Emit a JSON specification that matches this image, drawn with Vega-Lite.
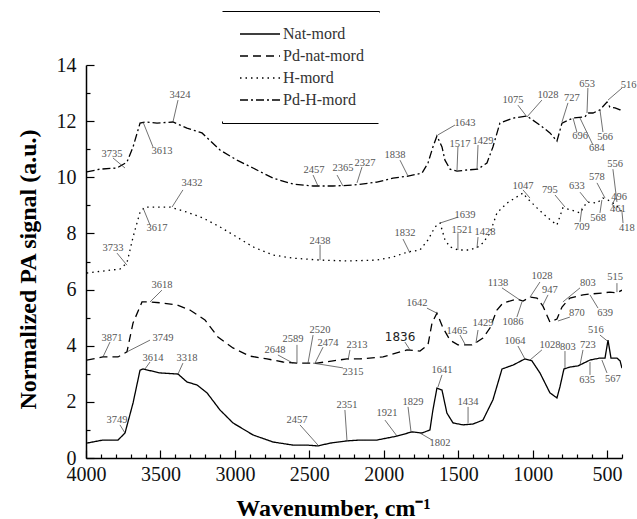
{
  "$schema": "https://vega.github.io/schema/vega-lite/v6.json",
  "width": 536,
  "height": 393,
  "autosize": {"type": "none"},
  "padding": {"left": 86, "top": 65, "right": 15, "bottom": 61},
  "background": "white",
  "config": {
    "view": {"stroke": null},
    "axis": {
      "domainColor": "black", "domainWidth": 1.5, "tickColor": "black", "tickWidth": 1.2,
      "labelFont": "Liberation Serif", "labelFontSize": 20, "labelColor": "#111",
      "titleFont": "Liberation Serif", "titleFontSize": 24, "titleFontWeight": "bold", "titleColor": "black",
      "grid": false, "labelOverlap": false
    },
    "legend": {
      "labelFont": "Liberation Serif", "labelFontSize": 16, "labelColor": "#333"
    }
  },
  "resolve": {"axis": {"x": "independent", "y": "independent"}},
  "datasets": {
    "spectra": [
      {"s":"Nat-mord","w":3995,"v":0.53},{"s":"Nat-mord","w":3886,"v":0.64},{"s":"Nat-mord","w":3785,"v":0.64},{"s":"Nat-mord","w":3738,"v":0.89},{"s":"Nat-mord","w":3684,"v":1.96},{"s":"Nat-mord","w":3637,"v":3.13},{"s":"Nat-mord","w":3617,"v":3.17},{"s":"Nat-mord","w":3503,"v":3.03},{"s":"Nat-mord","w":3382,"v":2.99},{"s":"Nat-mord","w":3322,"v":2.71},{"s":"Nat-mord","w":3254,"v":2.6},{"s":"Nat-mord","w":3187,"v":2.32},{"s":"Nat-mord","w":3100,"v":1.71},{"s":"Nat-mord","w":3013,"v":1.25},{"s":"Nat-mord","w":2878,"v":0.82},{"s":"Nat-mord","w":2744,"v":0.57},{"s":"Nat-mord","w":2610,"v":0.46},{"s":"Nat-mord","w":2516,"v":0.46},{"s":"Nat-mord","w":2442,"v":0.43},{"s":"Nat-mord","w":2361,"v":0.53},{"s":"Nat-mord","w":2247,"v":0.61},{"s":"Nat-mord","w":2160,"v":0.64},{"s":"Nat-mord","w":2046,"v":0.64},{"s":"Nat-mord","w":1911,"v":0.78},{"s":"Nat-mord","w":1811,"v":0.93},{"s":"Nat-mord","w":1743,"v":0.89},{"s":"Nat-mord","w":1690,"v":1.0},{"s":"Nat-mord","w":1670,"v":1.71},{"s":"Nat-mord","w":1643,"v":2.49},{"s":"Nat-mord","w":1609,"v":2.42},{"s":"Nat-mord","w":1576,"v":1.6},{"s":"Nat-mord","w":1535,"v":1.25},{"s":"Nat-mord","w":1468,"v":1.18},{"s":"Nat-mord","w":1401,"v":1.21},{"s":"Nat-mord","w":1334,"v":1.35},{"s":"Nat-mord","w":1267,"v":2.07},{"s":"Nat-mord","w":1206,"v":3.17},{"s":"Nat-mord","w":1132,"v":3.31},{"s":"Nat-mord","w":1052,"v":3.53},{"s":"Nat-mord","w":1005,"v":3.46},{"s":"Nat-mord","w":951,"v":3.03},{"s":"Nat-mord","w":884,"v":2.32},{"s":"Nat-mord","w":837,"v":2.14},{"s":"Nat-mord","w":817,"v":2.53},{"s":"Nat-mord","w":790,"v":3.17},{"s":"Nat-mord","w":750,"v":3.24},{"s":"Nat-mord","w":696,"v":3.28},{"s":"Nat-mord","w":615,"v":3.49},{"s":"Nat-mord","w":548,"v":3.56},{"s":"Nat-mord","w":514,"v":3.56},{"s":"Nat-mord","w":494,"v":4.2},{"s":"Nat-mord","w":474,"v":3.56},{"s":"Nat-mord","w":434,"v":3.56},{"s":"Nat-mord","w":413,"v":3.46},{"s":"Nat-mord","w":400,"v":3.2},
      {"s":"Pd-nat-mord","w":3995,"v":3.49},{"s":"Pd-nat-mord","w":3886,"v":3.6},{"s":"Pd-nat-mord","w":3785,"v":3.6},{"s":"Pd-nat-mord","w":3725,"v":3.78},{"s":"Pd-nat-mord","w":3684,"v":4.81},{"s":"Pd-nat-mord","w":3624,"v":5.56},{"s":"Pd-nat-mord","w":3570,"v":5.56},{"s":"Pd-nat-mord","w":3483,"v":5.52},{"s":"Pd-nat-mord","w":3389,"v":5.45},{"s":"Pd-nat-mord","w":3302,"v":5.27},{"s":"Pd-nat-mord","w":3201,"v":4.92},{"s":"Pd-nat-mord","w":3114,"v":4.31},{"s":"Pd-nat-mord","w":3013,"v":3.92},{"s":"Pd-nat-mord","w":2899,"v":3.63},{"s":"Pd-nat-mord","w":2784,"v":3.53},{"s":"Pd-nat-mord","w":2677,"v":3.42},{"s":"Pd-nat-mord","w":2583,"v":3.38},{"s":"Pd-nat-mord","w":2496,"v":3.38},{"s":"Pd-nat-mord","w":2449,"v":3.38},{"s":"Pd-nat-mord","w":2341,"v":3.46},{"s":"Pd-nat-mord","w":2247,"v":3.53},{"s":"Pd-nat-mord","w":2160,"v":3.53},{"s":"Pd-nat-mord","w":2005,"v":3.6},{"s":"Pd-nat-mord","w":1844,"v":3.85},{"s":"Pd-nat-mord","w":1757,"v":3.81},{"s":"Pd-nat-mord","w":1703,"v":4.03},{"s":"Pd-nat-mord","w":1676,"v":4.81},{"s":"Pd-nat-mord","w":1643,"v":5.16},{"s":"Pd-nat-mord","w":1602,"v":4.63},{"s":"Pd-nat-mord","w":1555,"v":4.2},{"s":"Pd-nat-mord","w":1502,"v":4.03},{"s":"Pd-nat-mord","w":1408,"v":4.03},{"s":"Pd-nat-mord","w":1374,"v":4.13},{"s":"Pd-nat-mord","w":1334,"v":4.27},{"s":"Pd-nat-mord","w":1287,"v":4.63},{"s":"Pd-nat-mord","w":1240,"v":5.27},{"s":"Pd-nat-mord","w":1200,"v":5.52},{"s":"Pd-nat-mord","w":1106,"v":5.66},{"s":"Pd-nat-mord","w":1065,"v":5.59},{"s":"Pd-nat-mord","w":1018,"v":5.73},{"s":"Pd-nat-mord","w":971,"v":5.7},{"s":"Pd-nat-mord","w":931,"v":5.41},{"s":"Pd-nat-mord","w":884,"v":4.84},{"s":"Pd-nat-mord","w":837,"v":4.95},{"s":"Pd-nat-mord","w":803,"v":5.38},{"s":"Pd-nat-mord","w":750,"v":5.7},{"s":"Pd-nat-mord","w":662,"v":5.81},{"s":"Pd-nat-mord","w":615,"v":5.84},{"s":"Pd-nat-mord","w":528,"v":5.88},{"s":"Pd-nat-mord","w":481,"v":5.91},{"s":"Pd-nat-mord","w":434,"v":5.88},{"s":"Pd-nat-mord","w":400,"v":5.98},
      {"s":"H-mord","w":3995,"v":6.59},{"s":"H-mord","w":3886,"v":6.66},{"s":"H-mord","w":3772,"v":6.73},{"s":"H-mord","w":3725,"v":6.95},{"s":"H-mord","w":3684,"v":7.87},{"s":"H-mord","w":3637,"v":8.76},{"s":"H-mord","w":3604,"v":8.94},{"s":"H-mord","w":3523,"v":8.94},{"s":"H-mord","w":3436,"v":8.94},{"s":"H-mord","w":3322,"v":8.76},{"s":"H-mord","w":3214,"v":8.55},{"s":"H-mord","w":3100,"v":8.23},{"s":"H-mord","w":2986,"v":7.87},{"s":"H-mord","w":2878,"v":7.52},{"s":"H-mord","w":2744,"v":7.23},{"s":"H-mord","w":2610,"v":7.12},{"s":"H-mord","w":2428,"v":7.05},{"s":"H-mord","w":2247,"v":7.02},{"s":"H-mord","w":2046,"v":7.05},{"s":"H-mord","w":1938,"v":7.16},{"s":"H-mord","w":1837,"v":7.34},{"s":"H-mord","w":1757,"v":7.41},{"s":"H-mord","w":1703,"v":7.77},{"s":"H-mord","w":1656,"v":8.23},{"s":"H-mord","w":1622,"v":8.37},{"s":"H-mord","w":1589,"v":7.77},{"s":"H-mord","w":1555,"v":7.52},{"s":"H-mord","w":1502,"v":7.41},{"s":"H-mord","w":1421,"v":7.41},{"s":"H-mord","w":1367,"v":7.52},{"s":"H-mord","w":1334,"v":7.66},{"s":"H-mord","w":1287,"v":8.01},{"s":"H-mord","w":1240,"v":8.73},{"s":"H-mord","w":1173,"v":9.08},{"s":"H-mord","w":1065,"v":9.44},{"s":"H-mord","w":1038,"v":9.26},{"s":"H-mord","w":971,"v":8.91},{"s":"H-mord","w":904,"v":8.58},{"s":"H-mord","w":837,"v":8.3},{"s":"H-mord","w":797,"v":8.91},{"s":"H-mord","w":736,"v":8.83},{"s":"H-mord","w":682,"v":8.73},{"s":"H-mord","w":635,"v":9.12},{"s":"H-mord","w":568,"v":9.08},{"s":"H-mord","w":528,"v":9.26},{"s":"H-mord","w":494,"v":9.19},{"s":"H-mord","w":461,"v":9.08},{"s":"H-mord","w":427,"v":8.94},{"s":"H-mord","w":400,"v":8.76},
      {"s":"Pd-H-mord","w":3995,"v":10.19},{"s":"Pd-H-mord","w":3906,"v":10.29},{"s":"Pd-H-mord","w":3792,"v":10.33},{"s":"Pd-H-mord","w":3725,"v":10.54},{"s":"Pd-H-mord","w":3684,"v":11.08},{"s":"Pd-H-mord","w":3637,"v":11.93},{"s":"Pd-H-mord","w":3604,"v":11.97},{"s":"Pd-H-mord","w":3523,"v":11.93},{"s":"Pd-H-mord","w":3416,"v":11.97},{"s":"Pd-H-mord","w":3322,"v":11.75},{"s":"Pd-H-mord","w":3221,"v":11.58},{"s":"Pd-H-mord","w":3100,"v":10.97},{"s":"Pd-H-mord","w":2986,"v":10.61},{"s":"Pd-H-mord","w":2878,"v":10.33},{"s":"Pd-H-mord","w":2744,"v":9.97},{"s":"Pd-H-mord","w":2610,"v":9.76},{"s":"Pd-H-mord","w":2475,"v":9.69},{"s":"Pd-H-mord","w":2341,"v":9.69},{"s":"Pd-H-mord","w":2207,"v":9.72},{"s":"Pd-H-mord","w":2046,"v":9.83},{"s":"Pd-H-mord","w":1938,"v":9.97},{"s":"Pd-H-mord","w":1837,"v":10.04},{"s":"Pd-H-mord","w":1743,"v":10.15},{"s":"Pd-H-mord","w":1703,"v":10.51},{"s":"Pd-H-mord","w":1670,"v":11.08},{"s":"Pd-H-mord","w":1643,"v":11.47},{"s":"Pd-H-mord","w":1609,"v":11.08},{"s":"Pd-H-mord","w":1589,"v":10.61},{"s":"Pd-H-mord","w":1555,"v":10.29},{"s":"Pd-H-mord","w":1508,"v":10.22},{"s":"Pd-H-mord","w":1441,"v":10.26},{"s":"Pd-H-mord","w":1367,"v":10.29},{"s":"Pd-H-mord","w":1307,"v":10.51},{"s":"Pd-H-mord","w":1267,"v":11.08},{"s":"Pd-H-mord","w":1220,"v":11.93},{"s":"Pd-H-mord","w":1132,"v":12.11},{"s":"Pd-H-mord","w":1038,"v":12.18},{"s":"Pd-H-mord","w":951,"v":11.86},{"s":"Pd-H-mord","w":884,"v":11.58},{"s":"Pd-H-mord","w":837,"v":11.29},{"s":"Pd-H-mord","w":803,"v":11.93},{"s":"Pd-H-mord","w":729,"v":12.11},{"s":"Pd-H-mord","w":649,"v":12.15},{"s":"Pd-H-mord","w":629,"v":12.29},{"s":"Pd-H-mord","w":595,"v":12.29},{"s":"Pd-H-mord","w":548,"v":12.4},{"s":"Pd-H-mord","w":501,"v":12.68},{"s":"Pd-H-mord","w":481,"v":12.5},{"s":"Pd-H-mord","w":447,"v":12.47},{"s":"Pd-H-mord","w":413,"v":12.4},{"s":"Pd-H-mord","w":400,"v":12.33}
    ],
    "notes": [
      {"t":"3735","tw":3825,"tv":10.83,"lw":3819,"lv":10.69,"pw":3738,"pv":10.33},
      {"t":"3613","tw":3490,"tv":10.94,"lw":3550,"lv":11.08,"pw":3617,"pv":11.97},
      {"t":"3424","tw":3369,"tv":12.93,"lw":3382,"lv":12.75,"pw":3416,"pv":11.97},
      {"t":"2457","tw":2469,"tv":10.26,"lw":2475,"lv":10.08,"pw":2442,"pv":9.69},
      {"t":"2365","tw":2274,"tv":10.33,"lw":2314,"lv":10.08,"pw":2274,"pv":9.69},
      {"t":"2327","tw":2126,"tv":10.51,"lw":2146,"lv":10.37,"pw":2180,"pv":9.8},
      {"t":"1838","tw":1925,"tv":10.79,"lw":1891,"lv":10.61,"pw":1837,"pv":10.04},
      {"t":"1643","tw":1455,"tv":11.93,"lw":1522,"lv":11.86,"pw":1636,"pv":11.51},
      {"t":"1517","tw":1488,"tv":11.18,"lw":1502,"lv":11.08,"pw":1508,"pv":10.26},
      {"t":"1429","tw":1334,"tv":11.29,"lw":1367,"lv":11.15,"pw":1374,"pv":10.26},
      {"t":"1075","tw":1132,"tv":12.75,"lw":1099,"lv":12.57,"pw":1038,"pv":12.15},
      {"t":"1028","tw":897,"tv":12.93,"lw":938,"lv":12.75,"pw":1038,"pv":12.15},
      {"t":"727","tw":736,"tv":12.82,"lw":763,"lv":12.65,"pw":803,"pv":11.97},
      {"t":"696","tw":682,"tv":11.47,"lw":703,"lv":11.61,"pw":729,"pv":12.11},
      {"t":"684","tw":568,"tv":11.04,"lw":595,"lv":11.15,"pw":682,"pv":12.11},
      {"t":"653","tw":635,"tv":13.32,"lw":629,"lv":13.18,"pw":635,"pv":12.29},
      {"t":"566","tw":514,"tv":11.43,"lw":528,"lv":11.61,"pw":548,"pv":12.4},
      {"t":"516","tw":355,"tv":13.29,"lw":400,"lv":13.18,"pw":494,"pv":12.75},
      {"t":"3733","tw":3819,"tv":7.48,"lw":3792,"lv":7.3,"pw":3725,"pv":6.87},
      {"t":"3617","tw":3523,"tv":8.19,"lw":3570,"lv":8.3,"pw":3617,"pv":8.91},
      {"t":"3432","tw":3288,"tv":9.8,"lw":3349,"lv":9.55,"pw":3422,"pv":8.94},
      {"t":"2438","tw":2428,"tv":7.73,"lw":2428,"lv":7.59,"pw":2428,"pv":7.05},
      {"t":"1832","tw":1858,"tv":8.01,"lw":1871,"lv":7.8,"pw":1824,"pv":7.3},
      {"t":"1639","tw":1455,"tv":8.66,"lw":1502,"lv":8.58,"pw":1622,"pv":8.37},
      {"t":"1521","tw":1475,"tv":8.12,"lw":1502,"lv":8.01,"pw":1502,"pv":7.41},
      {"t":"1428","tw":1320,"tv":8.05,"lw":1367,"lv":7.87,"pw":1374,"pv":7.48},
      {"t":"1047","tw":1065,"tv":9.69,"lw":1065,"lv":9.55,"pw":1018,"pv":9.26},
      {"t":"795","tw":884,"tv":9.55,"lw":850,"lv":9.37,"pw":783,"pv":8.94},
      {"t":"709","tw":669,"tv":8.23,"lw":682,"lv":8.41,"pw":669,"pv":8.91},
      {"t":"633","tw":703,"tv":9.69,"lw":682,"lv":9.47,"pw":629,"pv":9.12},
      {"t":"578","tw":568,"tv":10.01,"lw":568,"lv":9.8,"pw":514,"pv":9.26},
      {"t":"568","tw":561,"tv":8.55,"lw":548,"lv":8.73,"pw":535,"pv":9.19},
      {"t":"556","tw":447,"tv":10.47,"lw":461,"lv":10.29,"pw":434,"pv":9.12},
      {"t":"496","tw":420,"tv":9.3,"lw":447,"lv":9.23,"pw":461,"pv":9.08},
      {"t":"461","tw":427,"tv":8.87,"lw":447,"lv":8.9,"pw":468,"pv":9.05},
      {"t":"418","tw":367,"tv":8.19,"lw":393,"lv":8.37,"pw":400,"pv":8.76},
      {"t":"3871","tw":3825,"tv":4.27,"lw":3839,"lv":4.13,"pw":3886,"pv":3.6},
      {"t":"3749","tw":3483,"tv":4.27,"lw":3570,"lv":4.2,"pw":3725,"pv":3.78},
      {"t":"3618","tw":3490,"tv":6.16,"lw":3490,"lv":5.98,"pw":3570,"pv":5.56},
      {"t":"2648","tw":2731,"tv":3.85,"lw":2711,"lv":3.67,"pw":2610,"pv":3.38},
      {"t":"2589","tw":2610,"tv":4.24,"lw":2583,"lv":4.03,"pw":2583,"pv":3.38},
      {"t":"2520","tw":2428,"tv":4.56,"lw":2475,"lv":4.38,"pw":2509,"pv":3.38},
      {"t":"2474","tw":2375,"tv":4.1,"lw":2408,"lv":3.95,"pw":2462,"pv":3.38},
      {"t":"2313","tw":2180,"tv":4.03,"lw":2227,"lv":3.85,"pw":2240,"pv":3.49},
      {"t":"2315","tw":2207,"tv":3.06,"lw":2274,"lv":3.21,"pw":2475,"pv":3.38},
      {"t":"1836","tw":1891,"tv":4.31,"lw":1858,"lv":4.13,"pw":1824,"pv":3.85},
      {"t":"1642","tw":1777,"tv":5.52,"lw":1710,"lv":5.34,"pw":1643,"pv":5.16},
      {"t":"1465","tw":1508,"tv":4.52,"lw":1488,"lv":4.38,"pw":1455,"pv":4.06},
      {"t":"1429","tw":1334,"tv":4.81,"lw":1367,"lv":4.56,"pw":1381,"pv":4.1},
      {"t":"1138","tw":1233,"tv":6.23,"lw":1206,"lv":6.06,"pw":1086,"pv":5.63},
      {"t":"1086","tw":1132,"tv":4.84,"lw":1106,"lv":5.02,"pw":1072,"pv":5.56},
      {"t":"1028","tw":938,"tv":6.48,"lw":951,"lv":6.27,"pw":1018,"pv":5.73},
      {"t":"947","tw":884,"tv":5.98,"lw":897,"lv":5.81,"pw":931,"pv":5.45},
      {"t":"870","tw":703,"tv":5.16,"lw":750,"lv":5.02,"pw":830,"pv":4.88},
      {"t":"803","tw":629,"tv":6.23,"lw":682,"lv":6.06,"pw":797,"pv":5.56},
      {"t":"639","tw":514,"tv":5.16,"lw":561,"lv":5.34,"pw":615,"pv":5.81},
      {"t":"515","tw":447,"tv":6.45,"lw":434,"lv":6.23,"pw":434,"pv":5.91},
      {"t":"3749","tw":3792,"tv":1.35,"lw":3772,"lv":1.18,"pw":3738,"pv":0.89},
      {"t":"3614","tw":3550,"tv":3.56,"lw":3570,"lv":3.42,"pw":3604,"pv":3.17},
      {"t":"3318","tw":3322,"tv":3.56,"lw":3349,"lv":3.38,"pw":3382,"pv":2.99},
      {"t":"2457","tw":2583,"tv":1.35,"lw":2563,"lv":1.18,"pw":2442,"pv":0.46},
      {"t":"2351","tw":2247,"tv":1.89,"lw":2261,"lv":1.71,"pw":2247,"pv":0.61},
      {"t":"1921","tw":1978,"tv":1.6,"lw":1992,"lv":1.35,"pw":1911,"pv":0.78},
      {"t":"1829","tw":1804,"tv":1.99,"lw":1837,"lv":1.82,"pw":1817,"pv":0.93},
      {"t":"1802","tw":1622,"tv":0.53,"lw":1676,"lv":0.64,"pw":1757,"pv":0.89},
      {"t":"1641","tw":1609,"tv":3.13,"lw":1609,"lv":2.96,"pw":1636,"pv":2.53},
      {"t":"1434","tw":1434,"tv":1.99,"lw":1434,"lv":1.82,"pw":1434,"pv":1.25},
      {"t":"1064","tw":1119,"tv":4.17,"lw":1099,"lv":3.99,"pw":1052,"pv":3.53},
      {"t":"1028","tw":884,"tv":4.03,"lw":938,"lv":3.85,"pw":1018,"pv":3.49},
      {"t":"803","tw":763,"tv":3.95,"lw":783,"lv":3.81,"pw":783,"pv":3.21},
      {"t":"723","tw":629,"tv":4.03,"lw":662,"lv":3.85,"pw":682,"pv":3.31},
      {"t":"635","tw":635,"tv":2.78,"lw":615,"lv":2.96,"pw":615,"pv":3.42},
      {"t":"567","tw":461,"tv":2.81,"lw":501,"lv":3.03,"pw":535,"pv":3.49},
      {"t":"516","tw":575,"tv":4.56,"lw":548,"lv":4.38,"pw":494,"pv":4.15}
    ]
  },
  "layer": [
    {
      "data": {"name": "spectra"},
      "mark": {"type": "line", "color": "black", "strokeWidth": 1.3, "clip": true},
      "encoding": {
        "x": {"field": "w", "type": "quantitative", "sort": null,
          "scale": {"domain": [4000, 400], "nice": false, "zero": false},
          "axis": {
            "orient": "bottom",
            "title": "Wavenumber, cm⁻¹",
            "values": [4000, 3500, 3000, 2500, 2000, 1500, 1000, 500],
            "format": "d",
            "tickSize": -8,
            "labelFont": "Liberation Serif",
            "labelPadding": 14,
            "labelFlush": false,
            "titleX": 247, "titleY": 57, "titleBaseline": "alphabetic"
          }
        },
        "y": {"field": "v", "type": "quantitative",
          "scale": {"domain": [0, 14], "nice": false},
          "axis": {
            "orient": "left",
            "title": "Normalized PA signal (a.u.)",
            "values": [0, 2, 4, 6, 8, 10, 12, 14],
            "tickSize": -8,
            "labelFont": "Liberation Serif",
            "labelPadding": 18,
            "titleX": -58, "titleY": 204, "titleBaseline": "middle"
          }
        },
        "strokeDash": {"field": "s", "type": "nominal",
          "scale": {"domain": ["Nat-mord", "Pd-nat-mord", "H-mord", "Pd-H-mord"],
                    "range": [[1, 0], [8, 5], [1.5, 4], [8, 3, 2, 3]]},
          "legend": {
            "title": null, "orient": "none", "legendX": 136, "legendY": -54,
            "symbolType": "M-4,0H4", "symbolSize": 100, "symbolStrokeWidth": 1.3, "symbolStrokeColor": "black",
            "symbolFillColor": "transparent",
            "symbolOffset": 15, "labelOffset": 15,
            "labelFont": "Liberation Serif", "labelFontSize": 16, "labelColor": "#333",
            "padding": 15, "rowPadding": 6,
            "encode": {"legend": {"update": {"stroke": {"value": "black"}, "strokeWidth": {"value": 1}, "strokeDash": {"value": [158, 112, 158, 112]}}}}
          }
        }
      }
    },
    {
      "data": {"name": "notes"},
      "mark": {"type": "rule", "color": "#333", "strokeWidth": 0.7},
      "encoding": {
        "x": {"field": "lw", "type": "quantitative",
          "axis": {"orient": "bottom", "values": [3900,3800,3700,3600,3400,3300,3200,3100,2900,2800,2700,2600,2400,2300,2200,2100,1900,1800,1700,1600,1400,1300,1200,1100,900,800,700,600,400],
            "labels": false, "domain": false, "title": null, "tickSize": -4}},
        "y": {"field": "lv", "type": "quantitative",
          "axis": {"orient": "left", "values": [1, 3, 5, 7, 9, 11, 13], "labels": false, "domain": false, "title": null, "tickSize": -4}},
        "x2": {"field": "pw"},
        "y2": {"field": "pv"}
      }
    },
    {
      "data": {"name": "notes"},
      "transform": [{"filter": "datum.t !== '1836'"}],
      "mark": {"type": "text", "font": "Liberation Serif", "fontSize": 10.5, "color": "#555"},
      "encoding": {
        "x": {"field": "tw", "type": "quantitative", "axis": null},
        "y": {"field": "tv", "type": "quantitative", "axis": null},
        "text": {"field": "t"}
      }
    },
    {
      "data": {"name": "notes"},
      "transform": [{"filter": "datum.t === '1836'"}],
      "mark": {"type": "text", "font": "DejaVu Sans", "fontSize": 12, "color": "#222"},
      "encoding": {
        "x": {"field": "tw", "type": "quantitative", "axis": null},
        "y": {"field": "tv", "type": "quantitative", "axis": null},
        "text": {"field": "t"}
      }
    }
  ]
}
